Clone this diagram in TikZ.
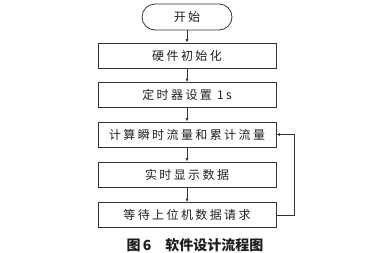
\documentclass[tikz,border=0pt]{standalone}
\usepackage{fontspec}
\setmainfont{Liberation Serif}
\newfontfamily\cjk[LetterSpace=20]{Noto Sans CJK SC}
\newfontfamily\cjkcap{Noto Sans CJK SC}
\usetikzlibrary{arrows.meta}
\definecolor{LineGray}{HTML}{333333}
\definecolor{TextBlack}{HTML}{1E1E1E}

\begin{document}
\begin{tikzpicture}[x=1pt, y=-1pt, >={Latex[length=3.5pt,width=3pt]},
  stepbox/.style={draw=LineGray, line width=0.8pt, minimum width=178pt,
    minimum height=25pt, inner sep=0pt, text=TextBlack,
    font=\cjk\fontsize{12}{14}\selectfont},
  termbox/.style={stepbox, minimum width=90pt, minimum height=26pt, rounded corners=13pt},
  flow/.style={->, draw=LineGray, line width=0.7pt}]
  \useasboundingbox (0,0) rectangle (371,252);

  % flow steps
  \node[termbox] (start) at (187,17) {开始};
  \node[stepbox] (init) at (187,55.5) {硬件初始化};
  \node[stepbox] (timer) at (187,95) {定时器设置 1s};
  \node[stepbox] (calc) at (187,134.5) {计算瞬时流量和累计流量};
  \node[stepbox] (show) at (187,174.5) {实时显示数据};
  \node[stepbox] (wait) at (187,215) {等待上位机数据请求};

  \draw[flow] (start) -- (init);
  \draw[flow] (init) -- (timer);
  \draw[flow] (timer) -- (calc);
  \draw[flow] (calc) -- (show);
  \draw[flow] (show) -- (wait);
  % loop back to the calculation
  \draw[flow] (wait.east) -- ++(18,0) |- (calc.east);

  \node[text=TextBlack, font=\cjkcap\bfseries\fontsize{14}{16}\selectfont]
    (caption) at (195,245) {图\,6\quad 软件设计流程图};
\end{tikzpicture}
\end{document}
